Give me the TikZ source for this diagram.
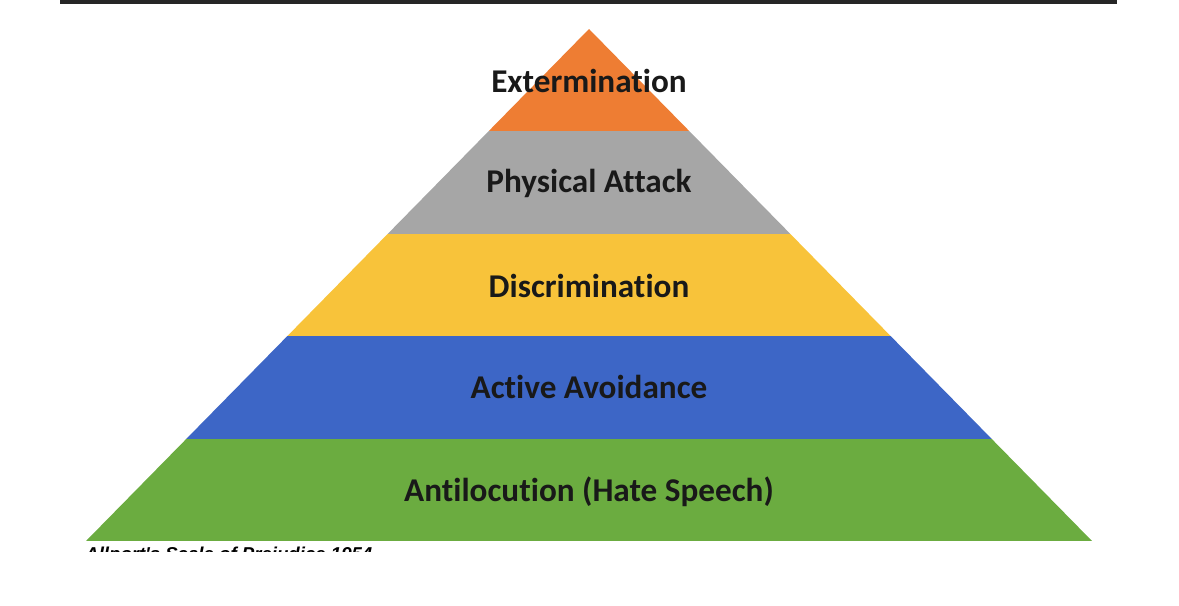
\documentclass[tikz,border=0pt]{standalone}
\usepackage{fontspec}
\setmainfont[Ligatures=NoCommon]{Carlito}
\newfontfamily\capfont{Liberation Sans}
\definecolor{extorange}{HTML}{EE7D33}
\definecolor{physgray}{HTML}{A6A6A6}
\definecolor{discyellow}{HTML}{F8C33A}
\definecolor{avoidblue}{HTML}{3D66C6}
\definecolor{antigreen}{HTML}{6BAC40}
\tikzset{lvl/.style={font=\bfseries\fontsize{18.9}{22}\selectfont, text=black!90}}
\begin{document}
\begin{tikzpicture}[x=0.02cm, y=-0.02cm]
\useasboundingbox (0,0) rectangle (1179,605);
\fill[black!85] (60,0) rectangle (1117,4);
% pyramid bands
\begin{scope}
\clip (589,29) -- (1092,541) -- (86,541) -- cycle;
\fill[extorange] (80,29) rectangle (1100,131.4);
\fill[physgray] (80,131.4) rectangle (1100,233.8);
\fill[discyellow] (80,233.8) rectangle (1100,336.2);
\fill[avoidblue] (80,336.2) rectangle (1100,438.6);
\fill[antigreen] (80,438.6) rectangle (1100,541);
\end{scope}
\node[lvl] (ext) at (589,81) {Extermination};
\node[lvl] (phys) at (589,183) {Physical Attack};
\node[lvl] (disc) at (589,286) {Discrimination};
\node[lvl] (avoid) at (589,387) {Active Avoidance};
\node[lvl] (anti) at (589,492) {Antilocution (Hate Speech)};
% caption, cut off at the bottom
\begin{scope}
\clip (80,543) rectangle (400,551.5);
\node[anchor=north west, inner sep=0pt, font=\capfont\bfseries\itshape\fontsize{10.6}{12}\selectfont] (cap) at (85,546.5) {Allport's Scale of Prejudice 1954};
\end{scope}
\end{tikzpicture}
\end{document}
